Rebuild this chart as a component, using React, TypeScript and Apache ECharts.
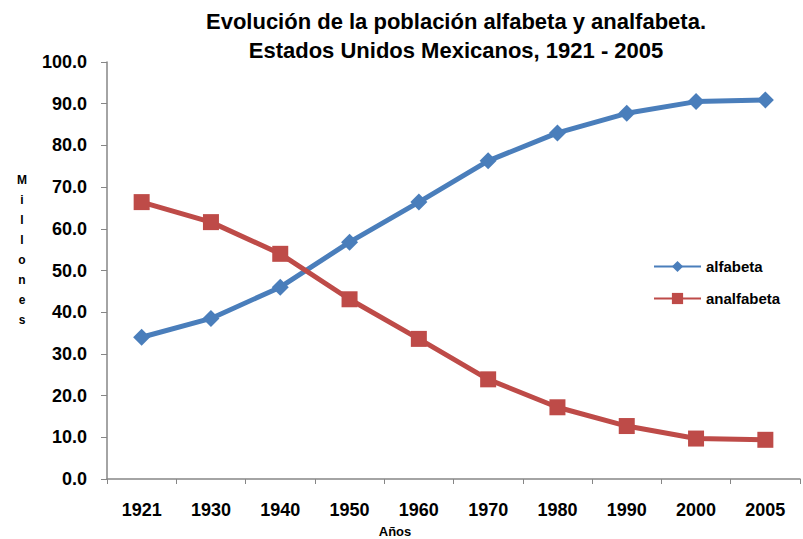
import React, { useEffect, useRef } from "react";
import * as echarts from "echarts";

const years = ["1921", "1930", "1940", "1950", "1960", "1970", "1980", "1990", "2000", "2005"];
const alfabeta = [34.0, 38.5, 46.0, 56.8, 66.4, 76.3, 83.0, 87.7, 90.5, 90.9];
const analfabeta = [66.4, 61.6, 54.0, 43.1, 33.6, 23.9, 17.2, 12.7, 9.7, 9.4];
const titleLines = ["Evolución de la población alfabeta y analfabeta.", "Estados Unidos Mexicanos, 1921 - 2005"];
const yName = "Millones";
const xName = "Años";

const FONT = "'Liberation Sans', Arial, sans-serif";
const BLUE = "#4a7ebb";
const RED = "#be4b48";

export default function App() {
  const ref = useRef<HTMLDivElement>(null);
  useEffect(() => {
    if (!ref.current) return;
    const chart = echarts.init(ref.current, null, { renderer: "svg" });
    chart.setOption({
      animation: false,
      backgroundColor: "#ffffff",
      textStyle: { fontFamily: FONT },
      grid: { left: 107, right: 3, top: 62, bottom: 60, containLabel: false },
      graphic: [
        {
          type: "text",
          x: 456,
          y: 7,
          style: {
            text: titleLines.join("\n"),
            font: `bold 22px ${FONT}`,
            lineHeight: 29,
            textAlign: "center",
            fill: "#000",
          },
        },
        {
          type: "text",
          x: 22,
          y: 250,
          style: {
            text: yName.split("").join("\n"),
            font: `bold 12px ${FONT}`,
            lineHeight: 20,
            textAlign: "center",
            textVerticalAlign: "middle",
            fill: "#000",
          },
        },
        {
          type: "text",
          x: 395,
          y: 531,
          style: {
            text: xName,
            font: `bold 13px ${FONT}`,
            textAlign: "center",
            textVerticalAlign: "middle",
            fill: "#000",
          },
        },
      ],
      legend: {
        orient: "vertical",
        left: 653,
        top: 259,
        padding: 0,
        itemWidth: 47,
        itemHeight: 14,
        itemGap: 17,
        textStyle: { fontFamily: FONT, fontWeight: "bold", fontSize: 15, color: "#000" },
        data: ["alfabeta", "analfabeta"],
      },
      xAxis: {
        type: "category",
        data: years,
        boundaryGap: true,
        axisLine: { lineStyle: { color: "#868686", width: 1.5 } },
        axisTick: { show: true, length: 5, lineStyle: { color: "#868686" } },
        axisLabel: { color: "#000", fontFamily: FONT, fontWeight: "bold", fontSize: 18, margin: 22 },
        splitLine: { show: false },
      },
      yAxis: {
        type: "value",
        min: 0,
        max: 100,
        interval: 10,
        axisLine: { show: true, lineStyle: { color: "#868686", width: 1.5 } },
        axisTick: { show: true, length: 6, lineStyle: { color: "#868686" } },
        axisLabel: {
          color: "#000",
          fontFamily: FONT,
          fontWeight: "bold",
          fontSize: 18,
          margin: 20,
          formatter: (v: number) => v.toFixed(1),
        },
        splitLine: { show: false },
      },
      series: [
        {
          name: "alfabeta",
          type: "line",
          data: alfabeta,
          symbol: "diamond",
          symbolSize: 17,
          itemStyle: { color: BLUE },
          lineStyle: { color: BLUE, width: 5 },
        },
        {
          name: "analfabeta",
          type: "line",
          data: analfabeta,
          symbol: "rect",
          symbolSize: 16,
          itemStyle: { color: RED },
          lineStyle: { color: RED, width: 5 },
        },
      ],
    });
    return () => chart.dispose();
  }, []);
  return <div ref={ref} style={{ position: "absolute", left: 0, top: 0, width: 803, height: 539 }} />;
}
